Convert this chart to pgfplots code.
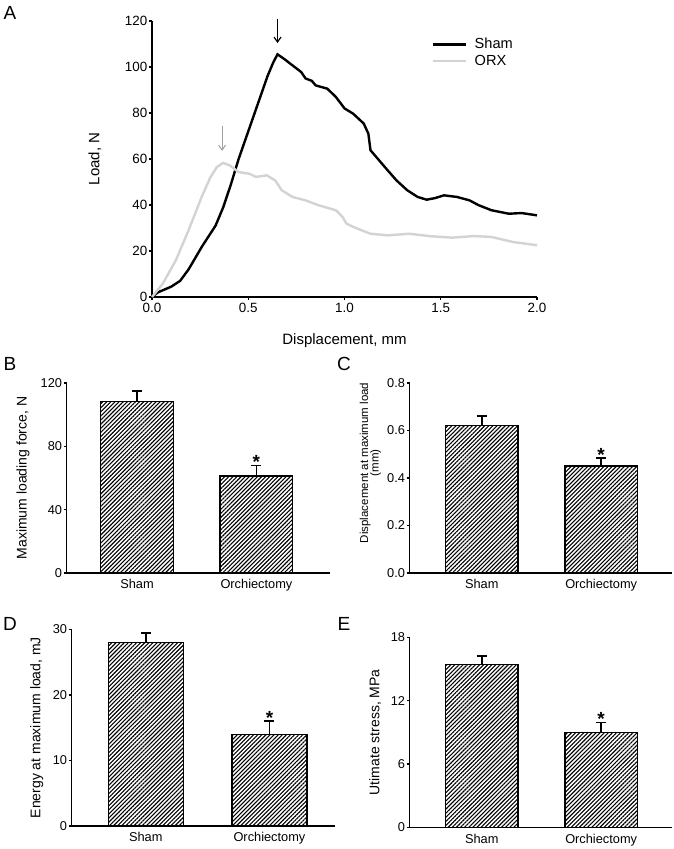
\documentclass[border=0pt]{standalone}
\usepackage{fontspec}
\setmainfont{Liberation Sans}
\usepackage{pgfplots}
\pgfplotsset{compat=1.18}
\usetikzlibrary{patterns.meta,arrows.meta}

\newcommand\fsA{\fontsize{13.4}{16}\selectfont}
\newcommand\fsAL{\fontsize{15}{18}\selectfont}
\newcommand\fsB{\fontsize{12.8}{15}\selectfont}
\newcommand\fsBL{\fontsize{14}{13}\selectfont}
\newcommand\fsC{\fontsize{11.5}{12}\selectfont}
\newcommand\fl{\fontsize{19}{21}\selectfont}
\newcommand\sig{\fontsize{19}{19}\selectfont\bfseries *}

\pgfplotsset{
  panel/.style={
    scale only axis, axis lines=left,
    axis line style={-, line width=1.3pt},
    tick align=outside, major tick length=3pt,
    tick style={line width=1.3pt, black},
    yticklabel style={inner sep=1.5pt},
    /pgf/number format/assume math mode=true,
    clip=false
  },
  barpanel/.style={
    panel, ybar, bar width=0.608, ymin=0,
    tick label style={font=\fsB},
    label style={font=\fsBL},
    xtick={0,1}, xticklabels={Sham,Orchiectomy},
    major x tick style={draw=none},
    ylabel style={at={(axis description cs:#1,0.5)}, anchor=center}
  },
  hatched/.style={draw=black, line width=1.3pt,
    pattern={Lines[angle=45,distance=2.9pt,line width=1.1pt]},
    error bars/.cd, y dir=plus, y explicit,
    error bar style={line width=1.6pt, black},
    error mark options={rotate=90, line width=1.6pt, black, mark size=5pt}}
}

\begin{document}
\begin{tikzpicture}
\useasboundingbox (0,0) rectangle (674pt,849pt);

\node[font=\fl] at (10pt,836pt) {A};
\node[font=\fl] at (10pt,485pt) {B};
\node[font=\fl] at (344pt,485pt) {C};
\node[font=\fl] at (10pt,225pt) {D};
\node[font=\fl] at (344pt,225pt) {E};

% (A) load-displacement curves
\begin{axis}[panel, at={(152pt,552pt)}, anchor=south west,
  width=385pt, height=276pt,
  tick label style={font=\fsA}, label style={font=\fsAL},
  xmin=0, xmax=2, ymin=0, ymax=120,
  xtick={0,0.5,1,1.5,2}, ytick={0,20,...,120},
  xticklabel style={/pgf/number format/.cd, fixed, fixed zerofill, precision=1},
  xlabel={Displacement, mm}, ylabel={Load, N},
  xlabel style={at={(axis description cs:0.5,-0.159)}, anchor=center},
  ylabel style={at={(axis description cs:-0.148,0.5)}, anchor=center},
  legend style={draw=none, fill=none, font=\fontsize{14.6}{17}\selectfont,
    inner sep=0pt, at={(axis description cs:0.725,0.945)}, anchor=north west,
    row sep=1pt, /tikz/every odd column/.append style={column sep=6pt}},
  legend cell align=left,
  legend image code/.code={\draw[#1] (0pt,0pt) -- (33pt,0pt);}
]
\addplot[black, line width=2.4pt] coordinates {
(0,0)(0.03,2)(0.1,4.5)(0.146,7)(0.19,12)(0.26,22)(0.33,31)(0.37,39)
(0.41,49)(0.45,60)(0.5,72)(0.55,84)(0.6,96)(0.63,102)(0.652,105.5)
(0.685,103.6)(0.73,100.7)(0.775,97.8)(0.798,95)(0.83,94)(0.85,92)
(0.91,90.6)(0.955,87)(1.0,82)(1.045,79.7)(1.1,75.4)(1.124,71)(1.135,63.8)
(1.18,59.4)(1.225,55)(1.27,50.7)(1.326,46.4)(1.38,43.5)(1.427,42.3)
(1.47,43)(1.517,44.2)(1.584,43.5)(1.65,42)(1.697,39.9)(1.764,37.7)
(1.854,36.2)(1.92,36.5)(2.0,35.5)};
\addlegendentry{Sham}
\addplot[color={rgb,255:red,211;green,211;blue,211}, line width=2.4pt] coordinates {
(0,0)(0.056,5.8)(0.124,16)(0.19,29)(0.258,43.5)(0.303,52)(0.337,56.5)
(0.37,58.3)(0.404,57.2)(0.45,54.3)(0.506,53.6)(0.54,52.2)(0.596,52.9)
(0.64,50.7)(0.674,46.4)(0.73,43.5)(0.798,42)(0.865,39.9)(0.955,37.7)
(0.99,34.8)(1.01,31.9)(1.067,29.7)(1.135,27.5)(1.225,26.8)(1.337,27.5)
(1.45,26.4)(1.56,25.8)(1.674,26.5)(1.764,26.1)(1.876,23.9)(2.0,22.5)};
\addlegendentry{ORX}
\draw[black, line width=1.2pt, -{Straight Barb[length=5pt,width=7pt]}]
  (axis cs:0.652,121) -- (axis cs:0.652,110.4);
\draw[gray!75, line width=1pt, -{Straight Barb[length=5pt,width=7pt]}]
  (axis cs:0.364,74.2) -- (axis cs:0.364,63.5);
\end{axis}

% (B) maximum loading force
\begin{axis}[barpanel=-0.166, at={(66.7pt,276pt)}, anchor=south west,
  width=263.3pt, height=190pt, xmin=-0.589, xmax=1.616,
  ymax=120, ytick={0,40,80,120},
  ylabel={Maximum loading force, N}]
\addplot[hatched] coordinates {(0,108.4) +- (0,6.7) (1,61.3) +- (0,6.7)};
\node[anchor=base, inner sep=0pt, yshift=-3pt] at (axis cs:1,68) {\sig};
\end{axis}

% (C) displacement at maximum load
\begin{axis}[barpanel=-0.17, at={(409.7pt,276pt)}, anchor=south west,
  width=262.3pt, height=190pt, xmin=-0.603, xmax=1.593,
  ymax=0.8, ytick={0,0.2,0.4,0.6,0.8},
  yticklabel style={/pgf/number format/.cd, fixed, fixed zerofill, precision=1},
  ylabel style={font=\fsC, at={(axis description cs:-0.17,0.58)}},
  ylabel={Displacement at maximum load}]
\addplot[hatched] coordinates {(0,0.621) +- (0,0.041) (1,0.451) +- (0,0.032)};
\node[anchor=base, inner sep=0pt, yshift=-3pt] at (axis cs:1,0.483) {\sig};
\node[font=\fsC, rotate=90, anchor=center] at (axis description cs:-0.13,0.58) {(mm)};
\end{axis}

% (D) energy at maximum load
\begin{axis}[barpanel=-0.133, at={(71.7pt,23pt)}, anchor=south west,
  width=263.3pt, height=196.7pt, xmin=-0.599, xmax=1.53,
  ymax=30, ytick={0,10,20,30},
  ylabel={Energy at maximum load, mJ}]
\addplot[hatched] coordinates {(0,28.0) +- (0,1.4) (1,14.0) +- (0,2.0)};
\node[anchor=base, inner sep=0pt, yshift=-3pt] at (axis cs:1,16.0) {\sig};
\end{axis}

% (E) ultimate stress
\begin{axis}[barpanel=-0.132, at={(409.7pt,21.7pt)}, anchor=south west,
  width=262.3pt, height=190pt, xmin=-0.603, xmax=1.593,
  ymax=18, ytick={0,6,12,18},
  ylabel={Utimate stress, MPa}]
\addplot[hatched] coordinates {(0,15.44) +- (0,0.8) (1,8.97) +- (0,0.95)};
\node[anchor=base, inner sep=0pt, yshift=-3pt] at (axis cs:1,9.92) {\sig};
\end{axis}
\end{tikzpicture}
\end{document}
